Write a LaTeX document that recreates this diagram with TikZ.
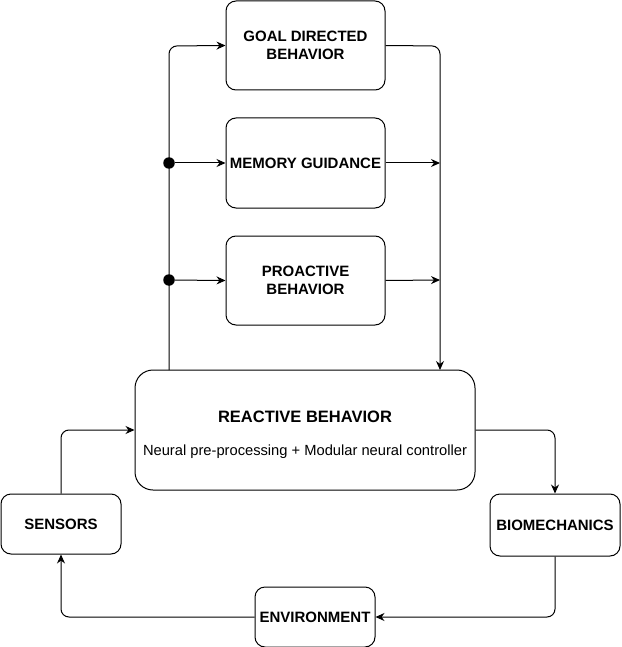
\documentclass[tikz,border=0pt]{standalone}
\usepackage{fontspec}
\setmainfont{Liberation Sans}
\usetikzlibrary{arrows.meta}
\begin{document}
\begin{tikzpicture}[x=1pt,y=-1pt,
  box/.style={draw,line width=1pt,rounded corners=10pt,inner sep=0pt,align=center,text depth=0pt,font=\bfseries\fontsize{15}{18.5}\selectfont},
  conn/.style={line width=1pt,rounded corners=8pt,-{Stealth[length=9pt,width=8pt]}},
  dot/.style={circle,fill,inner sep=0pt,minimum size=11.5pt}]
\useasboundingbox (0,0) rectangle (621,647);
\node[box,minimum width=159pt,minimum height=89pt] (goal) at (305.5,45.5) {GOAL DIRECTED\\BEHAVIOR};
\node[box,minimum width=159pt,minimum height=90pt] (mem) at (305.5,163) {MEMORY GUIDANCE};
\node[box,minimum width=159pt,minimum height=89pt] (pro) at (305.5,280.5) {PROACTIVE\\BEHAVIOR};
\node[box,rounded corners=18pt,minimum width=340pt,minimum height=120pt] (react) at (305,430) {};
\node[font=\bfseries\fontsize{16.5}{20}\selectfont] (rt) at (305,417) {REACTIVE BEHAVIOR};
\node[font=\fontsize{14.7}{18}\selectfont] (rs) at (305,451.5) {Neural pre-processing + Modular neural controller};
\node[box,minimum width=120pt,minimum height=60pt] (sens) at (61,524) {SENSORS};
\node[box,minimum width=130pt,minimum height=62pt] (bio) at (555,525) {BIOMECHANICS};
\node[box,minimum width=120pt,minimum height=60pt] (env) at (315,617) {ENVIRONMENT};
% left bus
\coordinate (bb) at (169,370);
\node[dot] (d1) at (169,163) {};
\node[dot] (d2) at (169,280) {};
\draw[conn] (bb) -- (169,46) -- (goal.west);
\draw[conn] (d1) -- (mem.west);
\draw[conn] (d2) -- (pro.west);
% right bus
\coordinate (m1) at (440,163);
\coordinate (m2) at (440,280);
\draw[conn] (goal.east) -- (440,46) -- (440,370);
\draw[conn] (mem.east) -- (m1);
\draw[conn] (pro.east) -- (m2);
% loop
\draw[conn] (sens.north) -- (61,430) -- (react.west);
\draw[conn] (react.east) -- (555,430) -- (bio.north);
\draw[conn] (bio.south) -- (555,617) -- (env.east);
\draw[conn] (env.west) -- (61,617) -- (sens.south);
\end{tikzpicture}
\end{document}
